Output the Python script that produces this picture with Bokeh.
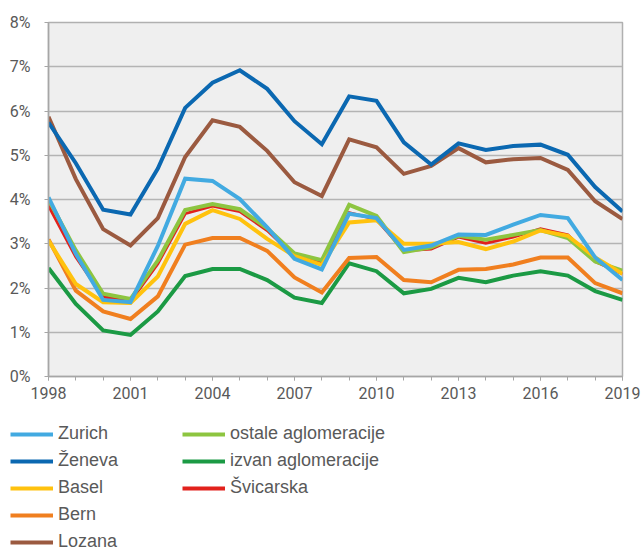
from bokeh.plotting import figure
from bokeh.models import (FixedTicker, PrintfTickFormatter, Legend, LegendItem,
                          ColumnDataSource, Range1d)
from bokeh.embed import file_html
from bokeh.resources import INLINE

years = list(range(1998, 2020))

zurich = [4.05, 2.77, 1.73, 1.68, 2.95, 4.47, 4.42, 4.01, 3.37, 2.66, 2.42,
          3.68, 3.58, 2.86, 2.96, 3.21, 3.20, 3.43, 3.65, 3.58, 2.69, 2.18]
zeneva = [5.74, 4.82, 3.77, 3.66, 4.70, 6.07, 6.64, 6.92, 6.50, 5.77, 5.25,
          6.33, 6.23, 5.29, 4.79, 5.27, 5.12, 5.21, 5.24, 5.01, 4.28, 3.73]
basel = [3.07, 2.09, 1.68, 1.66, 2.26, 3.45, 3.76, 3.56, 3.11, 2.72, 2.52,
         3.48, 3.53, 3.00, 3.00, 3.04, 2.88, 3.05, 3.30, 3.18, 2.69, 2.32]
bern = [3.10, 1.94, 1.47, 1.30, 1.81, 2.98, 3.13, 3.13, 2.84, 2.24, 1.90,
        2.68, 2.70, 2.18, 2.13, 2.41, 2.43, 2.53, 2.69, 2.69, 2.11, 1.88]
lozana = [5.87, 4.46, 3.33, 2.96, 3.58, 4.96, 5.79, 5.64, 5.10, 4.39, 4.08,
          5.36, 5.18, 4.58, 4.76, 5.16, 4.84, 4.91, 4.94, 4.67, 3.96, 3.56]
ostale = [4.00, 2.85, 1.87, 1.75, 2.62, 3.76, 3.90, 3.78, 3.35, 2.78, 2.63,
          3.88, 3.63, 2.81, 2.92, 3.18, 3.09, 3.20, 3.31, 3.13, 2.60, 2.39]
izvan = [2.45, 1.64, 1.04, 0.94, 1.47, 2.27, 2.43, 2.43, 2.18, 1.78, 1.66,
         2.56, 2.38, 1.88, 1.98, 2.23, 2.13, 2.28, 2.38, 2.28, 1.93, 1.73]
svicarska = [3.86, 2.70, 1.80, 1.70, 2.55, 3.68, 3.85, 3.73, 3.30, 2.72, 2.57,
             3.70, 3.55, 2.84, 2.88, 3.15, 3.01, 3.15, 3.34, 3.20, 2.60, 2.32]

x_ticks = [1998, 2001, 2004, 2007, 2010, 2013, 2016, 2019]
y_ticks = [0, 1, 2, 3, 4, 5, 6, 7, 8]

legend_order = ["Zurich", "Ženeva", "Basel", "Bern", "Lozana",
                "ostale aglomeracije", "izvan aglomeracije", "Švicarska"]
draw_order = ["Švicarska", "izvan aglomeracije", "ostale aglomeracije", "Bern",
              "Basel", "Lozana", "Ženeva", "Zurich"]
series = {
    "Zurich": (zurich, "#42aae1"),
    "Ženeva": (zeneva, "#0b68b1"),
    "Basel": (basel, "#ffc20e"),
    "Bern": (bern, "#f07f1f"),
    "Lozana": (lozana, "#9b5a40"),
    "ostale aglomeracije": (ostale, "#8dc540"),
    "izvan aglomeracije": (izvan, "#1b9a44"),
    "Švicarska": (svicarska, "#e2211c"),
}

# ---------------- main chart ----------------
p = figure(width=642, height=410, output_backend="svg", toolbar_location=None,
           x_range=Range1d(1998, 2019), y_range=Range1d(0, 8),
           min_border_left=48, min_border_right=20, min_border_top=22,
           min_border_bottom=34)
p.background_fill_color = "#efefef"
p.border_fill_color = "white"
p.outline_line_color = "#b0b0b0"
p.outline_line_width = 1.5

sources = {}
for name in draw_order:
    vals, col = series[name]
    sources[name] = ColumnDataSource(dict(x=years, y=vals))
    lw = 3 if name == "Švicarska" else 4
    p.line("x", "y", source=sources[name], line_color=col, line_width=lw,
           line_join="miter")

p.xaxis.ticker = FixedTicker(ticks=x_ticks, minor_ticks=years)
p.yaxis.ticker = FixedTicker(ticks=y_ticks)
p.yaxis.formatter = PrintfTickFormatter(format="%d%%")
for ax in (p.xaxis[0], p.yaxis[0]):
    ax.axis_line_color = "#a6a6a6"
    ax.axis_line_width = 1.5
    ax.major_tick_line_color = "#a6a6a6"
    ax.minor_tick_line_color = "#a6a6a6"
    ax.major_tick_in = 0
    ax.major_tick_out = 4
    ax.minor_tick_in = 0
    ax.minor_tick_out = 4
    ax.major_label_text_font = "Roboto"
    ax.major_label_text_font_size = "16px"
    ax.major_label_text_color = "#595959"
p.yaxis.minor_tick_line_color = None
p.yaxis.major_label_standoff = 14
p.xaxis.major_label_standoff = 6

p.xgrid.grid_line_color = None
p.ygrid.grid_line_color = "#b4b4b4"
p.ygrid.grid_line_width = 1.5

# ---------------- legend panel ----------------
lg = figure(width=642, height=140, output_backend="svg", toolbar_location=None,
            x_range=Range1d(0, 1), y_range=Range1d(0, 1),
            x_axis_location=None, y_axis_location=None,
            min_border_left=0, min_border_right=0, min_border_top=0,
            min_border_bottom=0)
lg.grid.visible = False
lg.outline_line_color = None
lg.background_fill_color = "white"

items = []
for name in legend_order:
    vals, col = series[name]
    r = lg.line("x", "y", source=sources[name], line_color=col, line_width=4)
    items.append(LegendItem(label=name, renderers=[r]))

legend = Legend(items=items, location=(10, -5), orientation="vertical",
                nrows=5, padding=0, margin=0, spacing=0,
                glyph_width=43, glyph_height=20, label_standoff=5,
                label_width=124, label_height=27,
                label_text_font="Liberation Sans", label_text_font_size="18px",
                label_text_color="#595959",
                border_line_color=None, background_fill_alpha=0)
lg.add_layout(legend, "center")

open("out.html", "w").write(file_html([p, lg], INLINE))
